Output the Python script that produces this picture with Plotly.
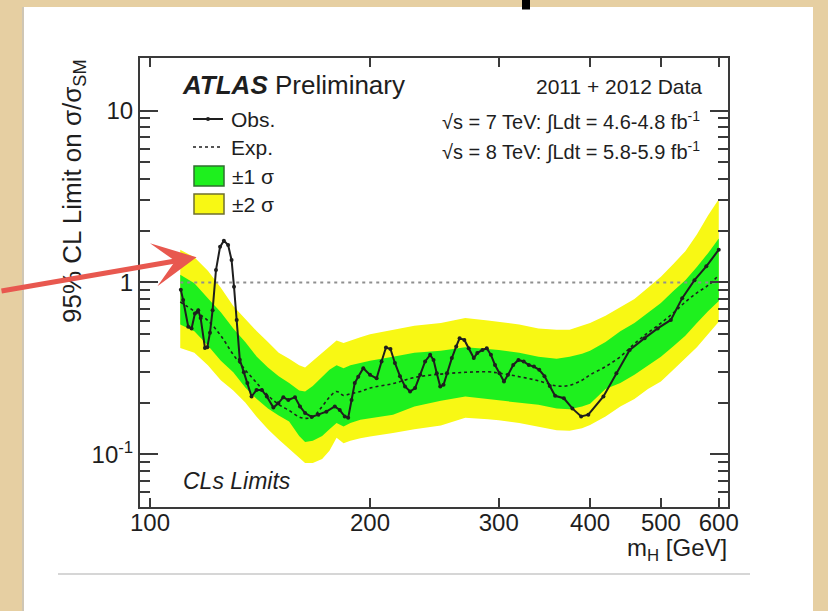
import math
import plotly.graph_objects as go

# ---------------- data ----------------
obs_mass = [110.2, 111, 112.8, 114, 115.2, 116.4, 117.3, 118.9, 119.8, 120.8, 121.8, 123.1,
            124.7, 126.2, 127.9, 129.3, 130.3, 131.4, 132.7, 134.4, 135.9, 137.7, 139.9,
            142.2, 144.5, 147.5, 149.8, 152.2, 154.6, 157.9, 160.4, 163, 166.4, 170, 174.3,
            179, 181.8, 184.7, 186.7, 188.7, 190.6, 192.7, 195.8, 200, 204.2, 207.4, 210.3,
            213.3, 216.3, 219.8, 223.3, 226.9, 230.5, 234.2, 237.9, 241.7, 244.3, 246.8,
            249.5, 252.1, 254.8, 258.8, 262.4, 265.2, 269.2, 272.9, 277.3, 280.4, 285,
            288.9, 292.7, 296.5, 300.7, 305, 308.9, 314, 319.2, 324.5, 329.8, 335.2, 340.8,
            346.5, 352.3, 358.3, 368.3, 378.3, 388.9, 397.8, 417.2, 434.6, 453.2, 475, 495,
            515.9, 534.7, 555.8, 576.9, 600]
obs_limit = [0.905, 0.79, 0.553, 0.54, 0.66, 0.69, 0.62, 0.416, 0.42, 0.51, 0.69, 1.18,
             1.61, 1.75, 1.65, 1.35, 0.945, 0.605, 0.355, 0.30, 0.26, 0.217, 0.237,
             0.237, 0.217, 0.187, 0.198, 0.215, 0.207, 0.215, 0.19, 0.174, 0.165, 0.17, 0.177,
             0.19, 0.181, 0.166, 0.163, 0.207, 0.26, 0.283, 0.317, 0.29, 0.277, 0.347, 0.418,
             0.41, 0.34, 0.285, 0.248, 0.232, 0.243, 0.29, 0.347, 0.379, 0.354, 0.296,
             0.248, 0.254, 0.296, 0.363, 0.424, 0.473, 0.463, 0.414, 0.363, 0.388, 0.405,
             0.414, 0.379, 0.331, 0.296, 0.265, 0.29, 0.331, 0.354, 0.347, 0.331, 0.324, 0.31,
             0.285, 0.25, 0.219, 0.212, 0.185, 0.166, 0.17, 0.217, 0.296, 0.405, 0.474, 0.54,
             0.605, 0.81, 1.03, 1.24, 1.55]

exp_mass = [110, 115, 120, 125, 130, 135, 140, 145, 150, 155, 160, 163, 167, 172, 176, 180,
            184, 188, 194, 200, 215, 230, 250, 270, 290, 300, 320, 340, 360, 375, 390, 400,
            420, 440, 460, 480, 500, 520, 540, 560, 580, 600]
exp_limit = [0.77, 0.68, 0.60, 0.49, 0.38, 0.31, 0.26, 0.22, 0.195, 0.18, 0.165, 0.162,
             0.165, 0.19, 0.215, 0.232, 0.22, 0.225, 0.232, 0.243, 0.258, 0.28, 0.293, 0.30,
             0.302, 0.297, 0.283, 0.268, 0.25, 0.252, 0.27, 0.29, 0.324, 0.37, 0.44, 0.51,
             0.58, 0.665, 0.77, 0.87, 0.96, 1.1]
band2_hi = [1.55, 1.40, 1.17, 0.93, 0.73, 0.61, 0.52, 0.45, 0.39, 0.36, 0.33, 0.32, 0.35,
            0.39, 0.42, 0.46, 0.445, 0.46, 0.48, 0.50, 0.53, 0.56, 0.58, 0.62, 0.60, 0.59,
            0.57, 0.54, 0.53, 0.53, 0.56, 0.58, 0.64, 0.72, 0.80, 0.93, 1.08, 1.28, 1.52,
            1.90, 2.45, 3.05]
band1_hi = [1.11, 0.99, 0.81, 0.67, 0.54, 0.45, 0.37, 0.32, 0.285, 0.26, 0.235, 0.232,
            0.25, 0.28, 0.31, 0.33, 0.317, 0.33, 0.34, 0.35, 0.37, 0.39, 0.40, 0.42, 0.41,
            0.405, 0.39, 0.37, 0.36, 0.37, 0.385, 0.40, 0.45, 0.52, 0.58, 0.67, 0.76, 0.89,
            1.03, 1.23, 1.48, 1.80]
band1_lo = [0.57, 0.52, 0.43, 0.35, 0.30, 0.245, 0.21, 0.185, 0.168, 0.155, 0.128, 0.118,
            0.12, 0.128, 0.14, 0.152, 0.145, 0.152, 0.159, 0.162, 0.17, 0.19, 0.205, 0.217,
            0.21, 0.207, 0.20, 0.194, 0.185, 0.183, 0.19, 0.197, 0.24, 0.26, 0.29, 0.33,
            0.37, 0.425, 0.49, 0.58, 0.68, 0.78]
band2_lo = [0.415, 0.39, 0.33, 0.27, 0.235, 0.20, 0.165, 0.14, 0.122, 0.108, 0.096, 0.089,
            0.089, 0.094, 0.105, 0.125, 0.116, 0.12, 0.124, 0.127, 0.133, 0.14, 0.147, 0.163,
            0.16, 0.158, 0.152, 0.145, 0.138, 0.137, 0.142, 0.148, 0.166, 0.19, 0.21, 0.24,
            0.265, 0.31, 0.36, 0.42, 0.50, 0.59]

unity_mass = [110, 600]
unity_val = [1, 1]

x_tick_vals = [100, 200, 300, 400, 500, 600]
x_tick_text = ["100", "200", "300", "400", "500", "600"]
y_tick_vals = [0.1, 1, 10]
y_tick_text = ["10<sup>-1</sup>", "1", "10"]
y_minor_vals = [0.06, 0.07, 0.08, 0.09, 0.2, 0.3, 0.4, 0.5, 0.6, 0.7, 0.8, 0.9,
                2, 3, 4, 5, 6, 7, 8, 9]
x_range = [96.9, 617.7]
y_range = [0.0494, 20.2]

# ---------------- styles ----------------
FONT = "Liberation Sans, Arial, Helvetica, sans-serif"
GREEN = "#1ef01e"
YELLOW = "#f8f814"
INK = "#1e1e1e"
FRAME = "#3a3a3a"

fig = go.Figure()
fig.add_trace(go.Scatter(x=exp_mass, y=band2_lo, mode="lines", line=dict(width=0),
                         hoverinfo="skip", showlegend=False))
fig.add_trace(go.Scatter(x=exp_mass, y=band2_hi, mode="lines", line=dict(width=0),
                         fill="tonexty", fillcolor=YELLOW, showlegend=False))
fig.add_trace(go.Scatter(x=exp_mass, y=band1_lo, mode="lines", line=dict(width=0),
                         hoverinfo="skip", showlegend=False))
fig.add_trace(go.Scatter(x=exp_mass, y=band1_hi, mode="lines", line=dict(width=0),
                         fill="tonexty", fillcolor=GREEN, showlegend=False))
fig.add_trace(go.Scatter(x=unity_mass, y=unity_val, mode="lines",
                         line=dict(color="#8f8f8f", width=2, dash="3px,4px"), showlegend=False))
fig.add_trace(go.Scatter(x=exp_mass, y=exp_limit, mode="lines", line_shape="spline",
                         line=dict(color=INK, width=1.6, dash="3px,3px"), showlegend=False))
fig.add_trace(go.Scatter(x=obs_mass, y=obs_limit, mode="lines+markers",
                         line=dict(color=INK, width=2),
                         marker=dict(color=INK, size=4), showlegend=False))

def px(x):
    return (x - 140) / 588.0

def py(y):
    return (507 - y) / 449.0

shapes = [
    # white slide on the beige background
    dict(type="rect", xref="paper", yref="paper", x0=px(24), x1=px(813), y0=py(7), y1=py(640),
         fillcolor="white", line=dict(width=0), layer="below"),
    dict(type="line", xref="paper", yref="paper", x0=px(23), x1=px(23), y0=py(7), y1=py(640),
         line=dict(color="#cfc6b4", width=2), layer="below"),
    dict(type="line", xref="paper", yref="paper", x0=px(58), x1=px(750), y0=py(574), y1=py(574),
         line=dict(color="#d6d6d6", width=2), layer="below"),
    # fragment of the slide title above
    dict(type="rect", xref="paper", yref="paper", x0=px(522), x1=px(530), y0=py(0), y1=py(9.5),
         fillcolor="black", line=dict(width=0)),
    # legend swatches
    dict(type="line", xref="paper", yref="paper", x0=px(193), x1=px(223), y0=py(119), y1=py(119),
         line=dict(color=INK, width=2)),
    dict(type="circle", xref="paper", yref="paper", x0=px(206), x1=px(210), y0=py(117), y1=py(121),
         fillcolor=INK, line=dict(width=0)),
    dict(type="line", xref="paper", yref="paper", x0=px(193), x1=px(223), y0=py(147), y1=py(147),
         line=dict(color=INK, width=1.6, dash="3px,3px")),
    dict(type="rect", xref="paper", yref="paper", x0=px(194), x1=px(224), y0=py(166), y1=py(186),
         fillcolor=GREEN, line=dict(color="#2f6f2f", width=1.5)),
    dict(type="rect", xref="paper", yref="paper", x0=px(194), x1=px(224), y0=py(194), y1=py(214),
         fillcolor=YELLOW, line=dict(color="#6f6f2f", width=1.5)),
]

def txt(text, x, y, size, xanchor="left", yanchor="middle", **kw):
    return dict(text=text, x=x, y=y, xref="paper", yref="paper", showarrow=False,
                xanchor=xanchor, yanchor=yanchor, font=dict(family=FONT, size=size, color=INK), **kw)

annotations = [
    txt("<b><i>ATLAS</i></b> Preliminary", px(180), py(85), 26),
    txt("2011 + 2012 Data", px(704), py(86), 21, xanchor="right"),
    txt("√s = 7 TeV: ∫Ldt = 4.6-4.8 fb<sup>-1</sup>", px(702), py(121), 20, xanchor="right"),
    txt("√s = 8 TeV: ∫Ldt = 5.8-5.9 fb<sup>-1</sup>", px(702), py(151), 20, xanchor="right"),
    txt("Obs.", px(229), py(119), 21),
    txt("Exp.", px(229), py(147), 21),
    txt("±1 σ", px(230), py(176), 21),
    txt("±2 σ", px(230), py(204), 21),
    txt("<i>CLs Limits</i>", px(181), py(481), 23),
    txt("95% CL Limit on σ/σ<sub>SM</sub>", px(73), py(57), 26, xanchor="center",
        yanchor="top", textangle=-90),
    txt("m<sub>H</sub> [GeV]", px(729), py(549), 24, xanchor="right"),
    # arrow pointing at the low-mass excess
    dict(text="", x=math.log10(115.8), y=math.log10(1.4), xref="x", yref="y",
         showarrow=True, ax=-198, ay=34, arrowcolor="#e8584f", arrowwidth=5,
         arrowhead=3, arrowsize=1.45, standoff=0),
]

axis_common = dict(type="log", showline=True, linecolor=FRAME, linewidth=2, mirror="allticks",
                   ticks="inside", tickcolor=FRAME, tickwidth=1.5, showgrid=False, zeroline=False,
                   tickfont=dict(family=FONT, size=24, color=INK))

fig.update_layout(
    width=828, height=611, autosize=False,
    margin=dict(l=140, r=100, t=58, b=104),
    paper_bgcolor="#e6cfa2", plot_bgcolor="white",
    shapes=shapes, annotations=annotations, showlegend=False,
    xaxis=dict(axis_common, range=[math.log10(x_range[0]), math.log10(x_range[1])],
               tickvals=x_tick_vals, ticktext=x_tick_text, ticklen=9,
               ticklabelstandoff=-7),
    yaxis=dict(axis_common, range=[math.log10(y_range[0]), math.log10(y_range[1])],
               tickvals=y_tick_vals, ticktext=y_tick_text, ticklen=18,
               minor=dict(tickvals=y_minor_vals, ticklen=10, ticks="inside",
                          tickcolor=FRAME, tickwidth=1.5, showgrid=False)),
)

fig.write_html("out.html", config={"displayModeBar": False},
               post_script="document.body.style.margin='0px';document.body.style.padding='0px';")
